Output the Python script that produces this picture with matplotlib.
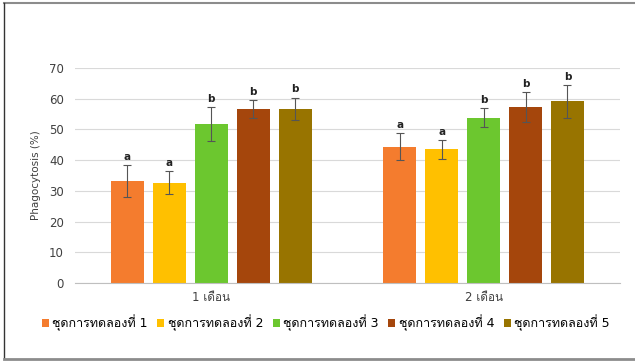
import matplotlib
matplotlib.use('Agg')
import matplotlib.pyplot as plt
from matplotlib.lines import Line2D
import numpy as np

# Thai text needs a fallback family; Latin glyphs stay in DejaVu Sans
plt.rcParams['font.family'] = ['DejaVu Sans', 'Loma']

months = ['1 เดือน', '2 เดือน']
groups = ['ชุดการทดลองที่ 1', 'ชุดการทดลองที่ 2', 'ชุดการทดลองที่ 3',
          'ชุดการทดลองที่ 4', 'ชุดการทดลองที่ 5']
# mean phagocytosis (%) per group, one value per month
means = [[33.3, 44.4],
         [32.7, 43.5],
         [51.8, 53.9],
         [56.7, 57.3],
         [56.8, 59.2]]
errs = [[5.2, 4.4],
        [3.7, 3.0],
        [5.6, 3.0],
        [2.9, 4.8],
        [3.6, 5.3]]
letters = [['a', 'a'],
           ['a', 'a'],
           ['b', 'b'],
           ['b', 'b'],
           ['b', 'b']]
colors = ['#F47C2E', '#FFC000', '#6CC72F', '#A5460C', '#987400']

fig = plt.figure(figsize=(6.35, 3.62), dpi=100)
ax = fig.add_axes([0.118, 0.218, 0.858, 0.594])

x = np.arange(len(months))
step = 0.154
width = 0.121
for i, g in enumerate(groups):
    pos = x + (i - 2) * step
    ax.bar(pos, means[i], width, color=colors[i], label=g, zorder=2)
    ax.errorbar(pos, means[i], yerr=errs[i], fmt='none', ecolor='#555555',
                elinewidth=0.8, capsize=3, capthick=0.8, zorder=3)
    for p, m, e, t in zip(pos, means[i], errs[i], letters[i]):
        ax.text(p, m + e + 1.0, t, ha='center', va='bottom',
                fontsize=7.5, fontweight='bold', color='#222222')

ax.set_xlim(-0.5, 1.5)
ax.set_ylim(0, 70)
ax.set_yticks(range(0, 71, 10))
ax.set_xticks(x)
ax.set_xticklabels(months, fontsize=8.5)
ax.tick_params(axis='y', labelsize=8.5, length=0, pad=8, colors='#404040')
ax.tick_params(axis='x', length=0, pad=6, colors='#404040')
ax.set_ylabel('Phagocytosis (%)', fontsize=7.5, color='#404040', labelpad=6)
ax.grid(axis='y', color='#d9d9d9', linewidth=0.8, zorder=0)
for s in ['top', 'right', 'left']:
    ax.spines[s].set_visible(False)
ax.spines['bottom'].set_color('#bfbfbf')

fig.legend(loc='center', bbox_to_anchor=(0.513, 0.108), ncol=5, frameon=False,
           fontsize=9, handlelength=0.55, handleheight=0.55, handletextpad=0.3,
           columnspacing=0.75, borderaxespad=0)

# chart frame
fig.add_artist(Line2D([0.006, 1.0], [1 - 3 / 362, 1 - 3 / 362],
                      color='#8c8c8c', linewidth=1.5, transform=fig.transFigure))
fig.add_artist(Line2D([4 / 635, 4 / 635], [1 - 3 / 362, 1 - 358 / 362],
                      color='#333333', linewidth=1.0, transform=fig.transFigure))
fig.add_artist(Line2D([0.006, 1.0], [1 - 359 / 362, 1 - 359 / 362],
                      color='#8c8c8c', linewidth=2.0, transform=fig.transFigure))

fig.savefig('out.png', dpi=100)
